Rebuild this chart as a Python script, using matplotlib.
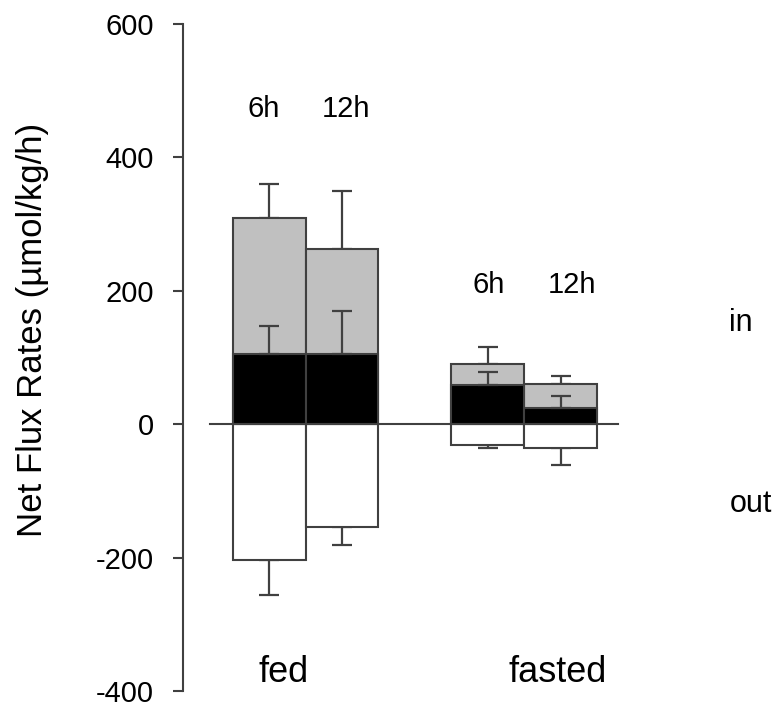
import matplotlib.pyplot as plt

plt.rcParams["font.family"] = ["Liberation Sans", "DejaVu Sans"]
plt.rcParams["axes.unicode_minus"] = False

# ---- DATA ----
conditions = ["fed 6h", "fed 12h", "fasted 6h", "fasted 12h"]
positions = [0, 1, 3, 4]
gray_in = [309, 262, 91, 61]
gray_err = [51, 87, 24, 11]
black_in = [105, 105, 59, 25]
black_err = [42, 65, 19, 17]
white_out = [-203, -154, -31, -36]
white_err = [53, 27, 5, 25]
hour_labels = ["6h", "12h", "6h", "12h"]
hour_label_x = [-0.07, 1.05, 3.01, 4.16]
hour_label_y = [473, 473, 208, 208]

edge = "#404040"

# ---- PLOT ----
fig = plt.figure(figsize=(7.76, 7.08), dpi=100)
ax = fig.add_axes([183 / 776, 17 / 708, 593 / 776, 667 / 708])

ax.bar(positions, gray_in, width=1, color="#c0c0c0", edgecolor=edge, linewidth=1.5, zorder=2)
ax.bar(positions, black_in, width=1, color="black", edgecolor=edge, linewidth=1.5, zorder=3)
ax.bar(positions, white_out, width=1, color="white", edgecolor=edge, linewidth=1.5, zorder=2)

ekw = dict(fmt="none", ecolor=edge, elinewidth=1.6, capsize=7, capthick=1.6)
ax.errorbar(positions, gray_in, yerr=[[0] * 4, gray_err], zorder=1, **ekw)
ax.errorbar(positions, black_in, yerr=[[0] * 4, black_err], zorder=4, **ekw)
ax.errorbar(positions, white_out, yerr=[white_err, [0] * 4], zorder=1, **ekw)

ax.plot([-0.81, 4.78], [0, 0], color=edge, linewidth=1.5, zorder=5)

for x, lab, y in zip(hour_label_x, hour_labels, hour_label_y):
    ax.text(x, y, lab, ha="center", va="center", fontsize=21)

ax.text(0.2, -372, "fed", ha="center", va="center", fontsize=26)
ax.text(3.96, -372, "fasted", ha="center", va="center", fontsize=26)
ax.text(6.47, 152, "in", ha="center", va="center", fontsize=22)
ax.text(6.6, -120, "out", ha="center", va="center", fontsize=22)

ax.set_xlim(-1.18, 6.95)
ax.set_ylim(-400, 600)
ax.set_yticks([-400, -200, 0, 200, 400, 600])
ax.set_xticks([])
for s in ["top", "right", "bottom"]:
    ax.spines[s].set_visible(False)
ax.spines["left"].set_color(edge)
ax.spines["left"].set_linewidth(1.5)
ax.tick_params(axis="y", direction="out", length=7, width=1.5, color=edge,
               labelsize=21, pad=14)

ax.set_ylabel("Net Flux Rates (µmol/kg/h)", fontsize=25)
ax.yaxis.set_label_coords(-0.226, 0.541)

plt.savefig("out.png", dpi=100)
